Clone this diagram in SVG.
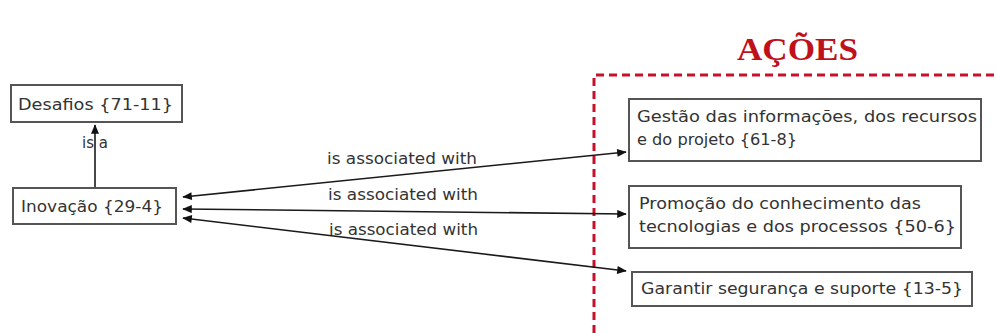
<svg xmlns="http://www.w3.org/2000/svg" width="996" height="333" viewBox="0 0 996 333">
<defs>
<style>
.box{fill:#fff;stroke:#555;stroke-width:2}
.t{font-family:"DejaVu Sans","Liberation Sans",sans-serif;font-size:15.5px;fill:#333}
.lbl{font-family:"DejaVu Sans","Liberation Sans",sans-serif;font-size:15px;fill:#333}
.c{fill:none;stroke:#1a1a1a;stroke-width:1.6}
</style>
<marker id="ah" viewBox="0 0 12 10" refX="11" refY="5" markerWidth="11" markerHeight="8" markerUnits="userSpaceOnUse" orient="auto-start-reverse">
<path d="M0,0 L12,5 L0,10 z" fill="#111"/>
</marker>
</defs>
<rect width="996" height="333" fill="#fff"/>
<g id="acoes-frame">
<text x="737" y="60" font-family="'Liberation Serif',serif" font-weight="bold" font-size="32" fill="#c0101a" textLength="121" lengthAdjust="spacingAndGlyphs">AÇÕES</text>
<path d="M594,333 V75 H996" fill="none" stroke="#c8102a" stroke-width="3" stroke-dasharray="8,5"/>
</g>
<g id="connectors">
<line class="c" x1="95" y1="187" x2="95" y2="125" stroke-width="2" marker-end="url(#ah)"/>
<text class="lbl" x="95" y="148" text-anchor="middle" font-size="13.5">is a</text>
<line class="c" x1="183" y1="197" x2="626" y2="152" marker-start="url(#ah)" marker-end="url(#ah)"/>
<line class="c" x1="183" y1="209" x2="626" y2="214" marker-start="url(#ah)" marker-end="url(#ah)"/>
<line class="c" x1="183" y1="218" x2="626" y2="271" marker-start="url(#ah)" marker-end="url(#ah)"/>
<text class="lbl" x="327" y="164" textLength="150" lengthAdjust="spacingAndGlyphs">is associated with</text>
<text class="lbl" x="328" y="200" textLength="150" lengthAdjust="spacingAndGlyphs">is associated with</text>
<text class="lbl" x="329" y="235" textLength="149" lengthAdjust="spacingAndGlyphs">is associated with</text>
</g>
<g id="desafios">
<rect class="box" x="11" y="85" width="171" height="37"/>
<text class="t" x="18" y="110" textLength="155" lengthAdjust="spacingAndGlyphs">Desafios {71-11}</text>
</g>
<g id="inovacao">
<rect class="box" x="13" y="188" width="163" height="36"/>
<text class="t" x="21" y="212" textLength="142" lengthAdjust="spacingAndGlyphs">Inovação {29-4}</text>
</g>
<g id="gestao">
<rect class="box" x="629" y="99" width="352" height="62"/>
<text class="t" x="637" y="122" textLength="340" lengthAdjust="spacingAndGlyphs">Gestão das informações, dos recursos</text>
<text class="t" x="637" y="145" textLength="160" lengthAdjust="spacingAndGlyphs">e do projeto {61-8}</text>
</g>
<g id="promocao">
<rect class="box" x="629" y="186" width="332" height="62"/>
<text class="t" x="639" y="209" textLength="282" lengthAdjust="spacingAndGlyphs">Promoção do conhecimento das</text>
<text class="t" x="639" y="232" textLength="317" lengthAdjust="spacingAndGlyphs">tecnologias e dos processos {50-6}</text>
</g>
<g id="garantir">
<rect class="box" x="632" y="272" width="340" height="34"/>
<text class="t" x="641" y="294" textLength="322" lengthAdjust="spacingAndGlyphs">Garantir segurança e suporte {13-5}</text>
</g>
</svg>
